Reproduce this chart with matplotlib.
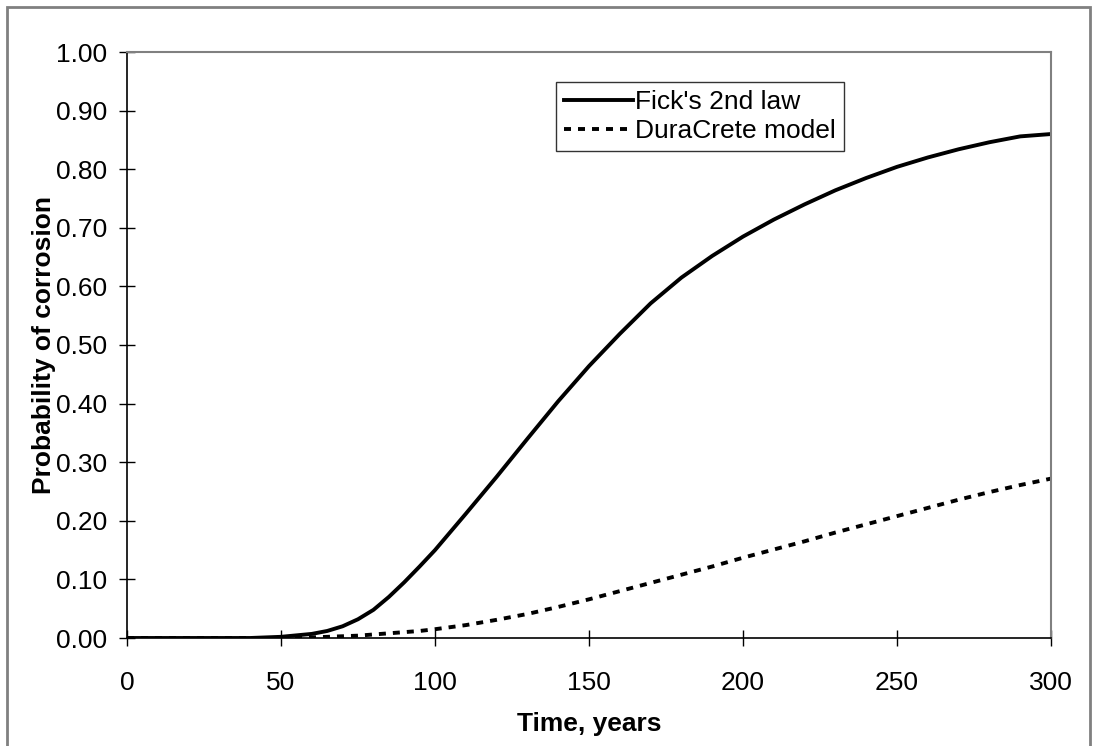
import matplotlib.pyplot as plt
from matplotlib.patches import Rectangle

# time axis, years
years = [0, 10, 20, 30, 40, 50, 60, 65, 70, 75, 80, 85, 90, 95, 100, 110, 120, 130, 140, 150,
         160, 170, 180, 190, 200, 210, 220, 230, 240, 250, 260, 270, 280, 290, 300]

# probability of corrosion
fick = [0.000, 0.000, 0.000, 0.000, 0.000, 0.002, 0.007, 0.012, 0.020, 0.032, 0.048,
        0.070, 0.095, 0.122, 0.150,
        0.212, 0.275, 0.340, 0.404, 0.464, 0.519, 0.571, 0.615, 0.652, 0.685,
        0.714, 0.740, 0.764, 0.785, 0.804, 0.820, 0.834, 0.846, 0.856, 0.860]
duracrete = [0.000, 0.000, 0.000, 0.000, 0.000, 0.000, 0.001, 0.002, 0.003, 0.004, 0.006,
             0.008, 0.010, 0.012, 0.015,
             0.022, 0.031, 0.041, 0.053, 0.066, 0.080, 0.094, 0.108, 0.122, 0.137,
             0.151, 0.165, 0.180, 0.194, 0.208, 0.222, 0.236, 0.249, 0.261, 0.272]

x_ticks = [0, 50, 100, 150, 200, 250, 300]
y_ticks = [0.0, 0.1, 0.2, 0.3, 0.4, 0.5, 0.6, 0.7, 0.8, 0.9, 1.0]

plt.rcParams['font.family'] = ['Liberation Sans', 'DejaVu Sans']
fs = 19

fig = plt.figure(figsize=(10.94, 7.46), dpi=100)
# outer chart border
fig.patches.append(Rectangle((7 / 1094, -0.01), (1090 - 7) / 1094, 1 - 7 / 746 + 0.01,
                             transform=fig.transFigure, fill=False,
                             edgecolor='#808080', linewidth=2))

ax = fig.add_axes([127 / 1094, 1 - 638 / 746, (1051 - 127) / 1094, (638 - 52) / 746])

ax.plot(years, fick, color='black', linewidth=2.8, label="Fick's 2nd law")
ax.plot(years, duracrete, color='black', linewidth=2.8, linestyle=(0, (1.8, 1.8)),
        label='DuraCrete model')

ax.set_xlim(0, 300)
ax.set_ylim(0, 1.0)
ax.set_xticks(x_ticks)
ax.set_yticks(y_ticks)
ax.set_yticklabels(['%.2f' % v for v in y_ticks])
ax.tick_params(direction='inout', length=12, width=1, labelsize=fs)
ax.tick_params(axis='y', pad=8)
ax.tick_params(axis='x', pad=18)

for side in ['left', 'bottom']:
    ax.spines[side].set_color('black')
    ax.spines[side].set_linewidth(1.2)
for side in ['top', 'right']:
    ax.spines[side].set_color('#808080')
    ax.spines[side].set_linewidth(1.5)

ax.set_xlabel('Time, years', fontsize=fs, fontweight='bold', labelpad=12)
ax.set_ylabel('Probability of corrosion', fontsize=fs, fontweight='bold', labelpad=0)

leg = ax.legend(loc='upper left', bbox_to_anchor=((556 - 127) / 924, (638 - 82) / 586),
                fontsize=fs, frameon=True, fancybox=False, handlelength=2.6,
                handletextpad=0.1, borderpad=0.3, labelspacing=0.2, borderaxespad=0)
leg.get_frame().set_edgecolor('black')
leg.get_frame().set_linewidth(1.0)

plt.savefig('out.png', dpi=100)
